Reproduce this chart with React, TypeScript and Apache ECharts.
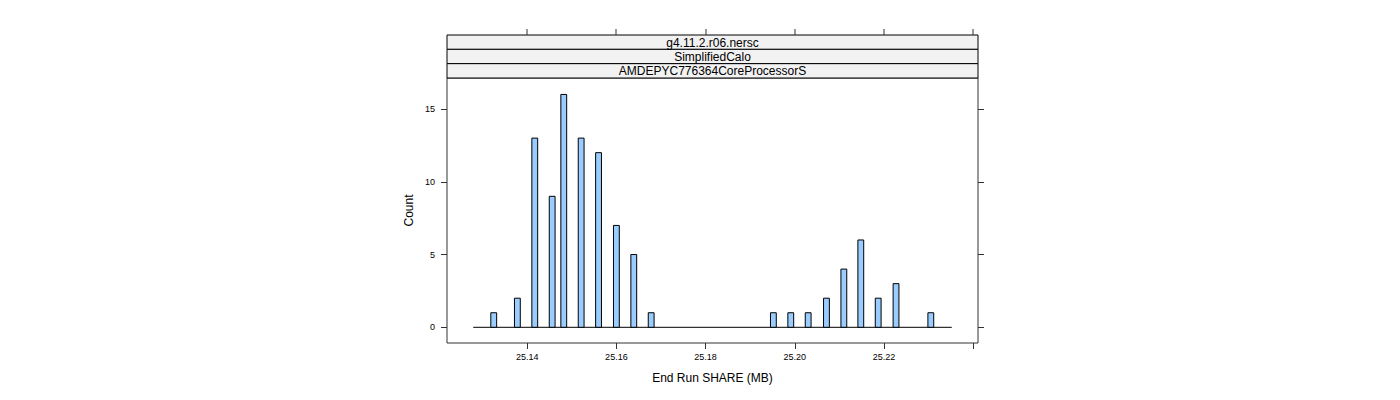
import React, { useEffect, useRef } from "react";
import * as echarts from "echarts";

// Histogram bar centres (End Run SHARE, MB) and counts
const binCenters = [
  25.1325, 25.1378, 25.1417, 25.1456, 25.1482, 25.1521, 25.156, 25.16, 25.1639, 25.1678,
  25.1952, 25.1991, 25.203, 25.2071, 25.211, 25.2148, 25.2187, 25.2227, 25.2305,
];
const counts = [1, 2, 13, 9, 16, 13, 12, 7, 5, 1, 1, 1, 1, 2, 4, 6, 2, 3, 1];
const binWidth = 0.001307;
const binRange = [25.1279, 25.2352];

const xTicks = [25.14, 25.16, 25.18, 25.2, 25.22, 25.24];
const xLabels = [25.14, 25.16, 25.18, 25.2, 25.22];
const yTicks = [0, 5, 10, 15];
const xLimits = [25.12202, 25.24108];
const yLimits = [-1.079, 17.13];

const stripLabels = ["g4.11.2.r06.nersc", "SimplifiedCalo", "AMDEPYC776364CoreProcessorS"];
const xTitle = "End Run SHARE (MB)";
const yTitle = "Count";

const FONT = "'Liberation Sans', Arial, Helvetica, sans-serif";

export default function App() {
  const ref = useRef<HTMLDivElement>(null);
  useEffect(() => {
    if (!ref.current) return;
    const chart = echarts.init(ref.current, null, { renderer: "svg" });
    const gridLeft = 447;
    const gridTop = 78;
    const gridW = 531;
    const gridH = 265;
    const stripTop = 35;
    const stripH = (gridTop - stripTop) / stripLabels.length;
    const tickLen = 6;
    const xScale = gridW / (xLimits[1] - xLimits[0]);

    const strips: any[] = [];
    stripLabels.forEach((s, i) => {
      strips.push({
        type: "rect",
        shape: { x: gridLeft, y: stripTop + i * stripH, width: gridW, height: stripH },
        style: { fill: "#F2F2F2", stroke: "#000", lineWidth: 1 },
        z: 10,
      });
      strips.push({
        type: "text",
        x: gridLeft + gridW / 2,
        y: stripTop + i * stripH + stripH / 2 + 0.5,
        style: {
          text: s,
          fill: "#000",
          font: `12px ${FONT}`,
          textAlign: "center",
          textVerticalAlign: "middle",
        },
        z: 11,
      });
    });
    // Top-axis ticks above the strips (lattice style), as thin rects
    xTicks.forEach((v) => {
      const px = gridLeft + (v - xLimits[0]) * xScale;
      strips.push({
        type: "rect",
        shape: { x: Math.round(px) - 0.5, y: stripTop - tickLen, width: 1, height: tickLen },
        style: { fill: "#333", stroke: null },
        z: 12,
      });
    });

    const tickStyle = { show: true, inside: false, length: tickLen, lineStyle: { color: "#333", width: 1 } };
    const noLine = { show: false, onZero: false };

    const option: any = {
      animation: false,
      textStyle: { fontFamily: FONT },
      grid: {
        left: gridLeft,
        top: gridTop,
        width: gridW,
        height: gridH,
        show: true,
        borderColor: "#333",
        borderWidth: 1,
        backgroundColor: "transparent",
      },
      xAxis: {
        type: "value",
        min: xLimits[0],
        max: xLimits[1],
        position: "bottom",
        splitLine: { show: false },
        axisLine: noLine,
        axisTick: { ...tickStyle, customValues: xTicks },
        axisLabel: {
          customValues: xLabels,
          formatter: (v: number) => v.toFixed(2),
          fontSize: 9,
          color: "#000",
          margin: 9,
          fontFamily: FONT,
        },
        name: xTitle,
        nameLocation: "middle",
        nameGap: 29,
        nameTextStyle: { fontSize: 12, color: "#000", fontFamily: FONT },
      },
      yAxis: [
        {
          type: "value",
          min: yLimits[0],
          max: yLimits[1],
          position: "left",
          splitLine: { show: false },
          axisLine: noLine,
          axisTick: { ...tickStyle, customValues: yTicks },
          axisLabel: {
            customValues: yTicks,
            fontSize: 9,
            color: "#000",
            margin: 12,
            fontFamily: FONT,
          },
          name: yTitle,
          nameLocation: "middle",
          nameRotate: 90,
          nameGap: 32,
          nameTextStyle: { fontSize: 12, color: "#000", fontFamily: FONT },
        },
        {
          type: "value",
          min: yLimits[0],
          max: yLimits[1],
          position: "right",
          splitLine: { show: false },
          axisLine: noLine,
          axisTick: { ...tickStyle, customValues: yTicks },
          axisLabel: { show: false },
        },
      ],
      series: [
        {
          type: "line",
          data: [
            [binRange[0], 0],
            [binRange[1], 0],
          ],
          symbol: "none",
          lineStyle: { color: "#000", width: 1 },
          z: 1,
        },
        {
          type: "custom",
          data: binCenters.map((c, i) => [c, counts[i]]),
          renderItem: (params: any, api: any) => {
            const x = api.value(0);
            const y = api.value(1);
            const p0 = api.coord([x - binWidth / 2, y]);
            const p1 = api.coord([x + binWidth / 2, 0]);
            return {
              type: "rect",
              shape: { x: p0[0], y: p0[1], width: p1[0] - p0[0], height: p1[1] - p0[1] },
              style: { fill: "#99CCFF", stroke: "#000", lineWidth: 1 },
            };
          },
          z: 2,
        },
      ],
      graphic: { elements: strips },
    };
    chart.setOption(option);
    return () => chart.dispose();
  }, []);
  return (
    <div
      ref={ref}
      style={{ position: "fixed", left: 0, top: 0, width: 1400, height: 400, background: "#fff" }}
    />
  );
}
